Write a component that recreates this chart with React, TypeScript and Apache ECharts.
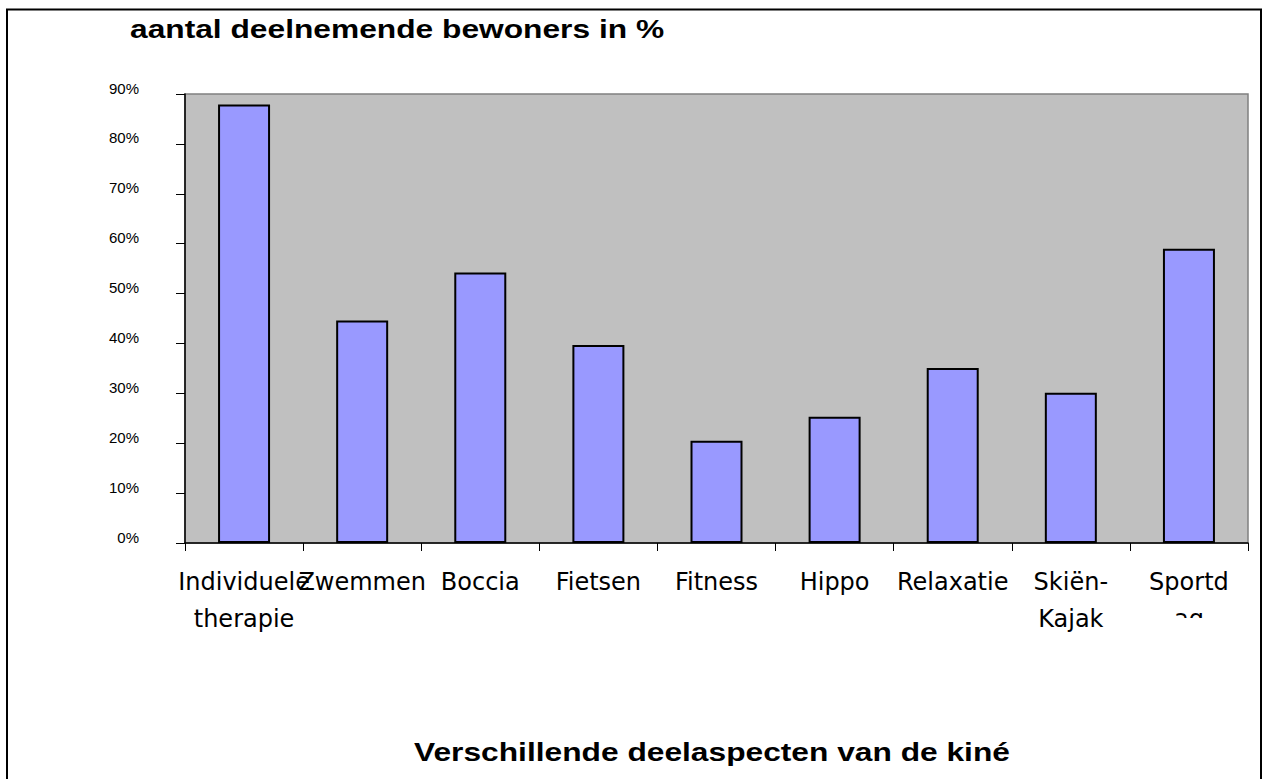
import React, { useEffect, useRef } from "react";
import * as echarts from "echarts";

const categories = [
  "Individuele\ntherapie",
  "Zwemmen",
  "Boccia",
  "Fietsen",
  "Fitness",
  "Hippo",
  "Relaxatie",
  "Skiën-\nKajak",
  "Sportd\nag",
];
const values = [87.9, 44.6, 54.2, 39.7, 20.5, 25.3, 35.1, 30.1, 59.0];
const yTicks = { min: 0, max: 90, interval: 10 };
const titleText = "aantal deelnemende bewoners in %";
const xAxisTitle = "Verschillende deelaspecten van de kiné";

export default function App() {
  const ref = useRef<HTMLDivElement>(null);
  useEffect(() => {
    if (!ref.current) return;
    const chart = echarts.init(ref.current, null, { renderer: "svg" });
    chart.setOption({
      animation: false,
      backgroundColor: "#ffffff",
      grid: {
        left: 185,
        top: 94,
        right: 19,
        bottom: 236,
        show: true,
        backgroundColor: "#C0C0C0",
        borderColor: "#808080",
        borderWidth: 1.5,
      },
      xAxis: {
        type: "category",
        data: categories,
        axisLine: { show: true, lineStyle: { color: "#000", width: 1.5 } },
        axisTick: { show: true, length: 8, alignWithLabel: false, lineStyle: { color: "#000", width: 1 } },
        axisLabel: {
          interval: 0,
          color: "#000",
          fontFamily: "DejaVu Sans",
          fontSize: 24,
          lineHeight: 37,
          margin: 20,
        },
        splitLine: { show: false },
      },
      yAxis: {
        type: "value",
        min: yTicks.min,
        max: yTicks.max,
        interval: yTicks.interval,
        axisLine: { show: true, lineStyle: { color: "#000", width: 1.5 } },
        axisTick: { show: true, length: 9, lineStyle: { color: "#000", width: 1 } },
        axisLabel: {
          formatter: "{value}%",
          color: "#000",
          fontFamily: "Liberation Sans",
          fontSize: 15,
          margin: 46,
          verticalAlign: "bottom",
          lineHeight: 12,
        },
        splitLine: { show: false },
      },
      series: [
        {
          type: "bar",
          data: values,
          barWidth: 52,
          itemStyle: { color: "#9999FF", borderColor: "#000", borderWidth: 2 },
        },
      ],
      graphic: [
        {
          type: "rect",
          shape: { x: 1135, y: 618, width: 110, height: 30 },
          style: { fill: "#ffffff" },
          z: 100,
        },
        {
          type: "rect",
          shape: { x: 7, y: 9.5, width: 1254, height: 900 },
          style: { fill: "none", stroke: "#000", lineWidth: 2 },
          z: 101,
        },
        {
          type: "text",
          x: 130,
          y: 29,
          scaleX: 1.22,
          style: {
            text: titleText,
            fill: "#000",
            font: "bold 26px 'Liberation Sans'",
            textAlign: "left",
            textVerticalAlign: "middle",
          },
          z: 102,
        },
        {
          type: "text",
          x: 712,
          y: 752,
          scaleX: 1.22,
          style: {
            text: xAxisTitle,
            fill: "#000",
            font: "bold 26px 'Liberation Sans'",
            textAlign: "center",
            textVerticalAlign: "middle",
          },
          z: 102,
        },
      ],
    });
    return () => chart.dispose();
  }, []);
  return (
    <div
      ref={ref}
      style={{ position: "absolute", left: 0, top: 0, width: 1267, height: 779 }}
    />
  );
}
